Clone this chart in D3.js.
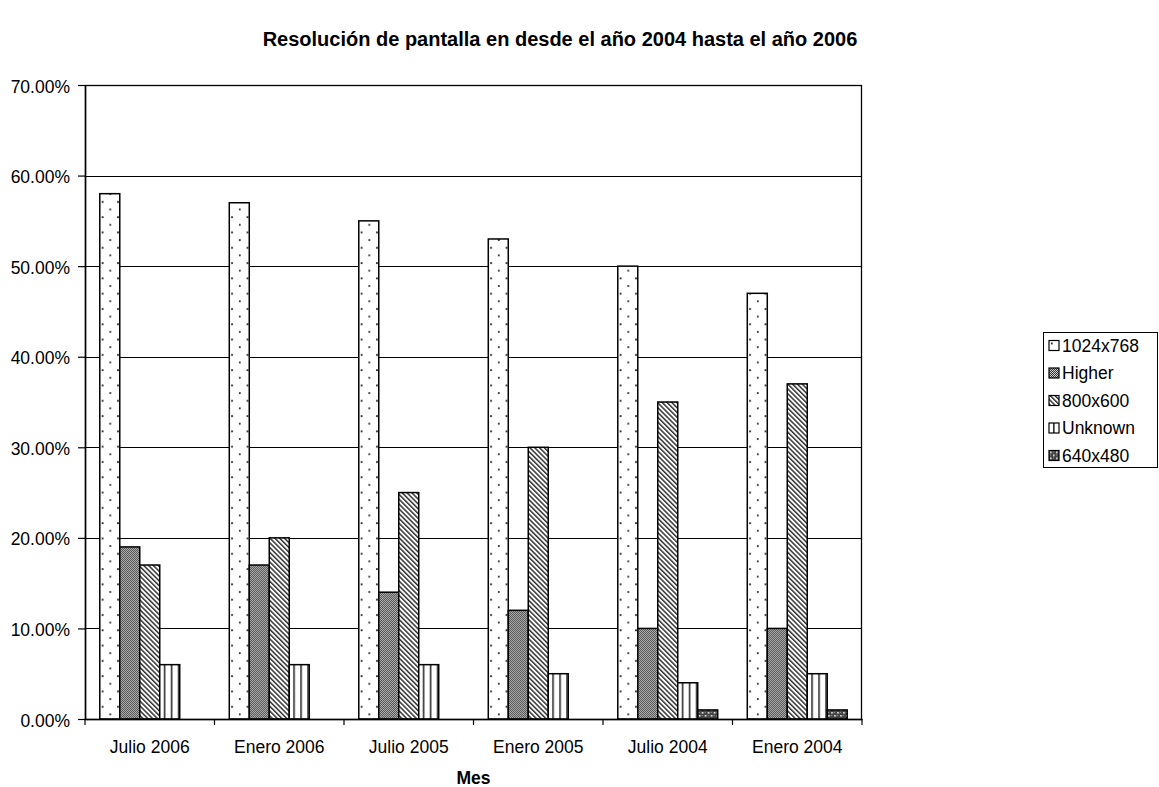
<!DOCTYPE html>
<html><head><meta charset="utf-8">
<script src="https://cdn.jsdelivr.net/npm/d3@7"></script>
<style>body{margin:0;background:#fff}svg{display:block}text{font-family:"Liberation Sans",Arial,sans-serif;fill:#000}</style>
</head><body><svg id="c" width="1159" height="787"></svg>
<script>
const categories = ["Julio 2006","Enero 2006","Julio 2005","Enero 2005","Julio 2004","Enero 2004"];
const seriesNames = ["1024x768","Higher","800x600","Unknown","640x480"];
const s1024 = [0.58,0.57,0.55,0.53,0.50,0.47];
const sHigher = [0.19,0.17,0.14,0.12,0.10,0.10];
const s800 = [0.17,0.20,0.25,0.30,0.35,0.37];
const sUnknown = [0.06,0.06,0.06,0.05,0.04,0.05];
const s640 = [0,0,0,0,0.01,0.01];
const yTicks = [0,0.1,0.2,0.3,0.4,0.5,0.6,0.7];
const seriesValues = [s1024,sHigher,s800,sUnknown,s640];

const svg = d3.select("#c");
const L=85,R=862,T=85,B=719;
const defs = svg.append("defs");
// patterns
let p = defs.append("pattern").attr("id","p0").attr("patternUnits","userSpaceOnUse").attr("width",15.4).attr("height",15.3);
p.append("rect").attr("width",15.4).attr("height",15.3).attr("fill","#fff");
p.append("circle").attr("cx",2.8).attr("cy",3).attr("r",1).attr("fill","#222");
p.append("circle").attr("cx",10.5).attr("cy",10.6).attr("r",1).attr("fill","#222");
p = defs.append("pattern").attr("id","p1").attr("patternUnits","userSpaceOnUse").attr("width",2).attr("height",2);
p.append("rect").attr("width",2).attr("height",2).attr("fill","#d0d0d0");
p.append("rect").attr("width",1).attr("height",1).attr("fill","#333");
p.append("rect").attr("x",1).attr("y",1).attr("width",1).attr("height",1).attr("fill","#333");
p = defs.append("pattern").attr("id","p2").attr("patternUnits","userSpaceOnUse").attr("width",3.4).attr("height",10).attr("patternTransform","rotate(-45)");
p.append("rect").attr("width",3.4).attr("height",10).attr("fill","#fff");
p.append("rect").attr("width",1.5).attr("height",10).attr("fill","#333");
p = defs.append("pattern").attr("id","p3").attr("patternUnits","userSpaceOnUse").attr("width",7).attr("height",10);
p.append("rect").attr("width",7).attr("height",10).attr("fill","#fff");
p.append("rect").attr("x",4.2).attr("width",1.3).attr("height",10).attr("fill","#000");
p = defs.append("pattern").attr("id","p4").attr("patternUnits","userSpaceOnUse").attr("width",6).attr("height",6);
p.append("rect").attr("width",6).attr("height",6).attr("fill","#444");
p.append("rect").attr("x",1).attr("y",1).attr("width",1.6).attr("height",1.6).attr("fill","#eee");
p.append("rect").attr("x",4).attr("y",4).attr("width",1.6).attr("height",1.6).attr("fill","#eee");
p.append("rect").attr("x",4).attr("y",1).attr("width",1).attr("height",1).attr("fill","#999");
p.append("rect").attr("x",1).attr("y",4).attr("width",1).attr("height",1).attr("fill","#999");

const x0 = d3.scaleBand().domain(categories).range([L,R]).padding(0);
const x1 = d3.scaleBand().domain(seriesNames).range([0,x0.bandwidth()]).paddingInner(0).paddingOuter(0.74);
const y = d3.scaleLinear().domain([0,0.7]).range([B,T]);

// grid
svg.append("g").selectAll("line").data(yTicks.filter(v=>v>0&&v<0.7)).join("line")
 .attr("x1",L).attr("x2",R).attr("y1",d=>Math.round(y(d))+0.5).attr("y2",d=>Math.round(y(d))+0.5)
 .attr("stroke","#000").attr("stroke-width",1);

// bars
categories.forEach((c,ci)=>{
  seriesNames.forEach((s,si)=>{
    const v = seriesValues[si][ci];
    if(v<=0) return;
    const g = svg.append("g").attr("transform",`translate(${x0(c)+x1(s)},0)`);
    g.append("rect").attr("x",0).attr("y",y(v)).attr("width",x1.bandwidth()).attr("height",B-y(v))
     .attr("fill",`url(#p${si})`).attr("stroke","#000").attr("stroke-width",1.5);
  });
});

// plot border
svg.append("rect").attr("x",L+0.5).attr("y",T+0.5).attr("width",R-L-1).attr("height",B-T)
 .attr("fill","none").attr("stroke","#000").attr("stroke-width",1.3);

// y axis
const yAxis = svg.append("g").attr("transform",`translate(${L},0)`)
 .call(d3.axisLeft(y).tickValues(yTicks).tickFormat(d=>(d*100).toFixed(2)+"%").tickSize(7).tickSizeOuter(0));
yAxis.select(".domain").attr("stroke","#000").attr("stroke-width",1.5);
yAxis.selectAll(".tick line").attr("stroke","#000").attr("stroke-width",1.2);
yAxis.selectAll("text").attr("font-size",17.5).attr("font-family","Liberation Sans, Arial").attr("fill","#000").attr("x",-15).attr("dy","0.4em");

// x axis
const xAxis = svg.append("g").attr("transform",`translate(0,${B})`)
 .call(d3.axisBottom(x0).tickSize(0).tickSizeOuter(0));
xAxis.select(".domain").attr("stroke","#000").attr("stroke-width",1.5);
xAxis.selectAll("text").attr("font-size",17.5).attr("font-family","Liberation Sans, Arial").attr("fill","#000").attr("dy",0).attr("y",34);
svg.append("g").selectAll("line").data(d3.range(categories.length+1)).join("line")
 .attr("x1",i=>L+i*x0.step()).attr("x2",i=>L+i*x0.step()).attr("y1",B).attr("y2",B+6)
 .attr("stroke","#000").attr("stroke-width",1.2);

// titles
svg.append("text").attr("x",560).attr("y",46).attr("text-anchor","middle").attr("font-weight","bold").attr("font-size",20).text("Resolución de pantalla en desde el año 2004 hasta el año 2006");
svg.append("text").attr("x",(L+R)/2).attr("y",784).attr("text-anchor","middle").attr("font-weight","bold").attr("font-size",17.5).text("Mes");

// legend
const lg = svg.append("g");
lg.append("rect").attr("x",1043.5).attr("y",332.5).attr("width",114).attr("height",135).attr("fill","#fff").attr("stroke","#000").attr("stroke-width",1);
seriesNames.forEach((s,i)=>{
  const cy = 345.5 + i*27.5;
  const g = lg.append("g").attr("transform",`translate(1049,${cy-5})`);
  g.append("rect").attr("width",10).attr("height",10).attr("fill",`url(#p${i})`).attr("stroke","#000").attr("stroke-width",1.2);
  lg.append("text").attr("x",1062).attr("y",cy+6).attr("font-size",17.5).text(s);
});
</script></body></html>
